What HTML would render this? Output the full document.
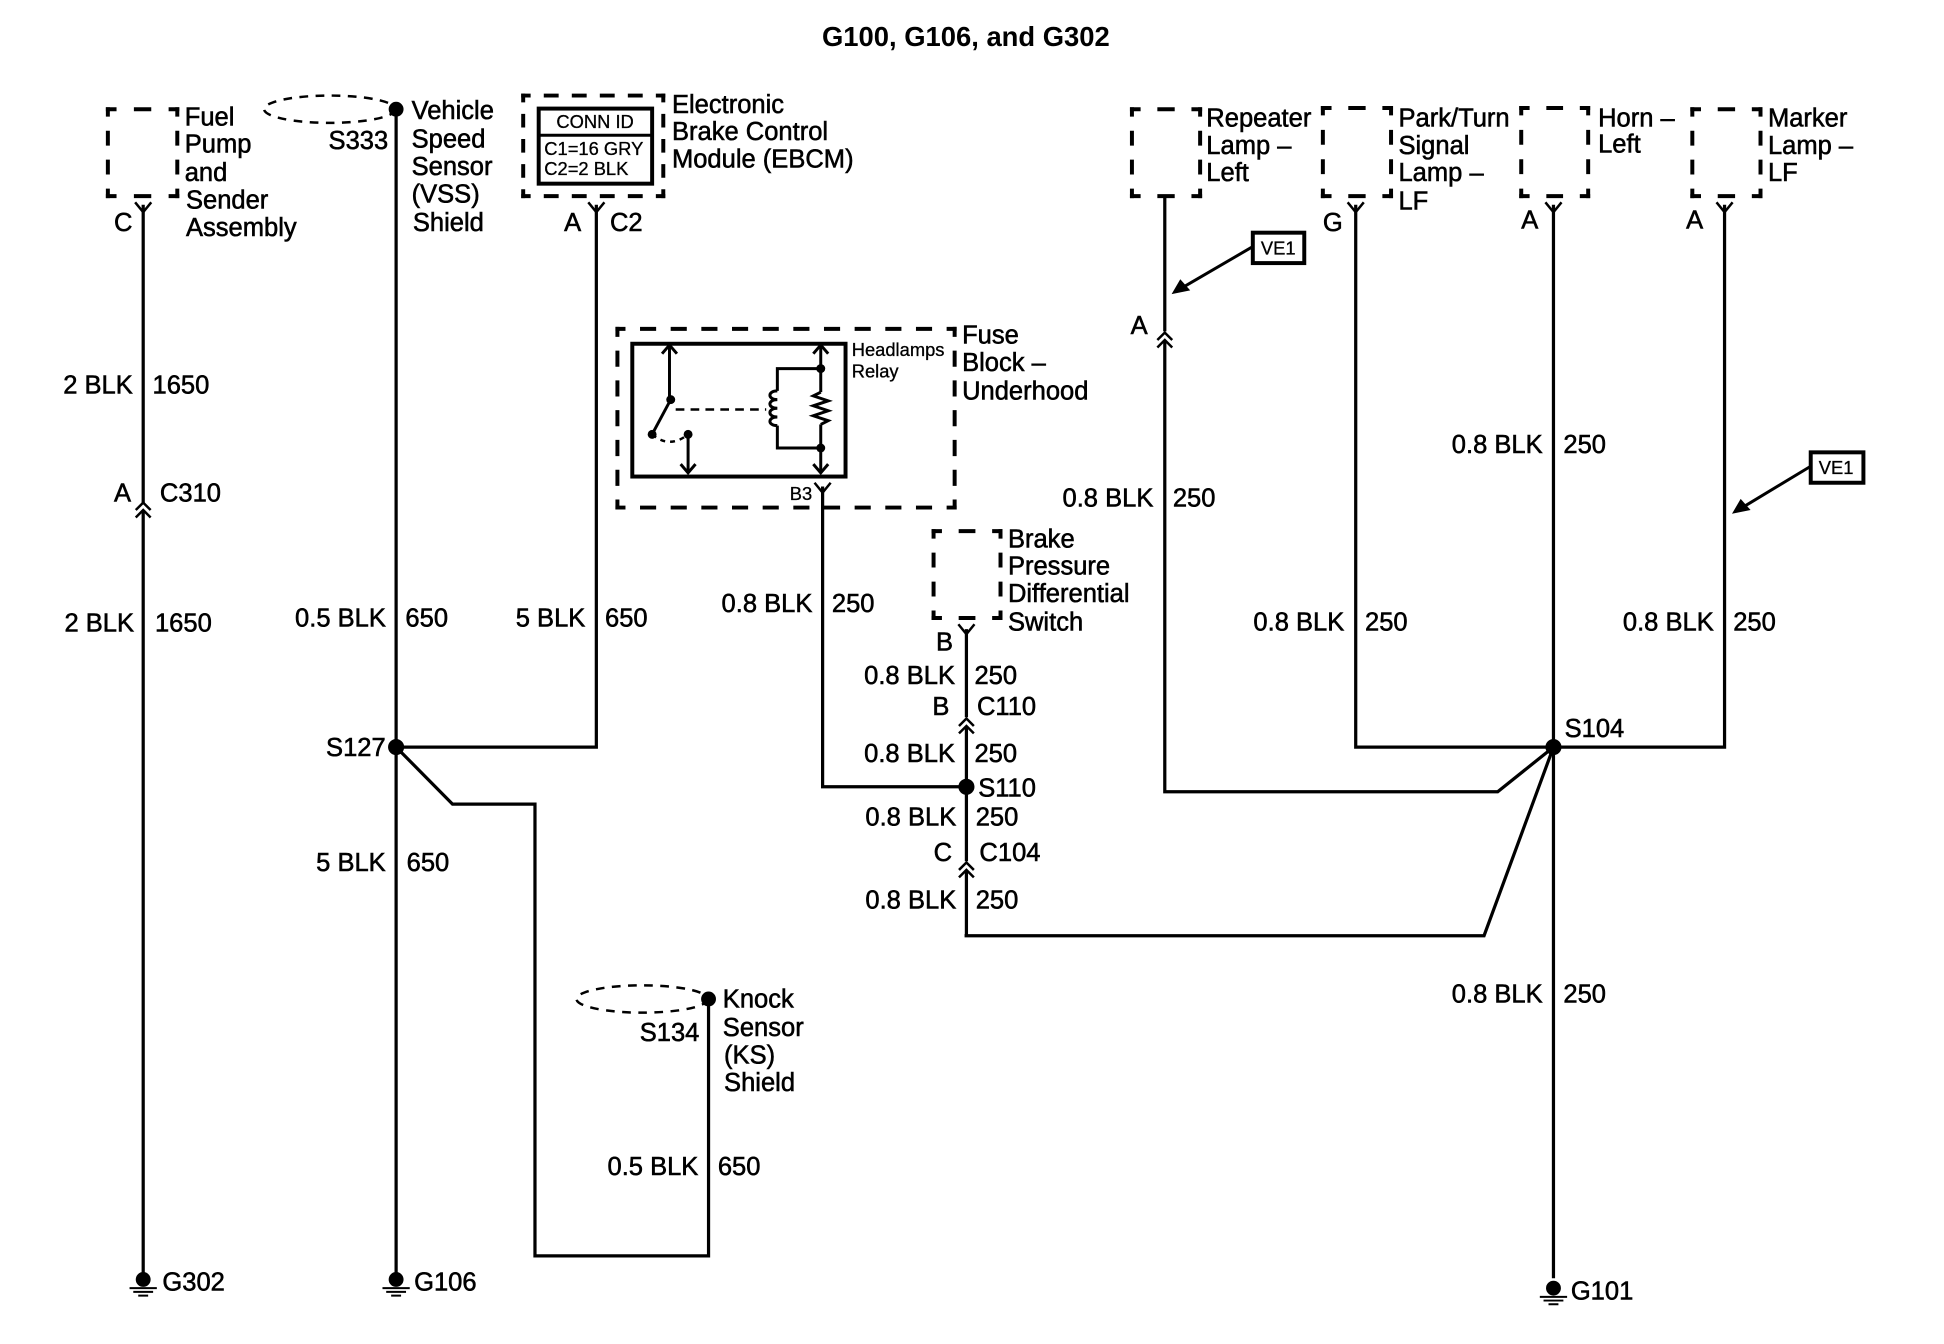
<!DOCTYPE html>
<html lang="en">
<head>
<meta charset="utf-8">
<title>G100, G106, and G302</title>
<style>
html,body{margin:0;padding:0;background:#fff}
svg{display:block}
text{font-family:"Liberation Sans",Arial,sans-serif;font-size:20.6px;fill:#000;stroke:#000;stroke-width:.45}
.t{font-weight:bold;font-size:22.1px;stroke:none}
.s{font-size:14.8px;stroke-width:.25}
.w{fill:none;stroke:#000;stroke-width:2.6;stroke-linejoin:miter}
.b{fill:none;stroke:#000;stroke-width:3.2}
.i{fill:none;stroke:#000;stroke-width:2.4}
.c{fill:none;stroke:#000;stroke-width:2}
.g{fill:none;stroke:#000;stroke-width:1.6}
</style>
</head>
<body>
<svg xmlns="http://www.w3.org/2000/svg" width="1944" height="1344" viewBox="0 0 1568 1083" preserveAspectRatio="none">
<rect width="1568" height="1083" fill="#fff"/>

<!-- dashed component boxes -->
<g class="b" stroke-linecap="square">
<!-- Fuel -->
<path d="M87 88H143M87 158H143" stroke-dasharray="10.8 17.2" stroke-dashoffset="5.4"/>
<path d="M87 88V158M143 88V158" stroke-dasharray="8.8 14.53" stroke-dashoffset="4.4"/>
<!-- EBCM -->
<path d="M422 77H535M422 158H535" stroke-dasharray="8.8 13.8" stroke-dashoffset="4.4"/>
<path d="M422 77V158M535 77V158" stroke-dasharray="7.8 12.45" stroke-dashoffset="3.9"/>
<!-- Fuse block -->
<path d="M498 265H770M498 409H770" stroke-dasharray="9.8 14.93" stroke-dashoffset="4.9"/>
<path d="M498 265V409M770 265V409" stroke-dasharray="9.8 14.2" stroke-dashoffset="4.9"/>
<!-- Brake switch -->
<path d="M753 428H807M753 498H807" stroke-dasharray="10.3 16.7" stroke-dashoffset="5.15"/>
<path d="M753 428V498M807 428V498" stroke-dasharray="8.8 14.53" stroke-dashoffset="4.4"/>
<!-- Repeater -->
<path d="M913 88H968M913 158H968" stroke-dasharray="10.8 16.7" stroke-dashoffset="5.4"/>
<path d="M913 88V158M968 88V158" stroke-dasharray="8.8 14.53" stroke-dashoffset="4.4"/>
<!-- Park -->
<path d="M1067 87H1122M1067 158H1122" stroke-dasharray="10.8 16.7" stroke-dashoffset="5.4"/>
<path d="M1067 87V158M1122 87V158" stroke-dasharray="8.8 14.87" stroke-dashoffset="4.4"/>
<!-- Horn -->
<path d="M1227 87H1281M1227 158H1281" stroke-dasharray="10.3 16.7" stroke-dashoffset="5.15"/>
<path d="M1227 87V158M1281 87V158" stroke-dasharray="8.8 14.87" stroke-dashoffset="4.4"/>
<!-- Marker -->
<path d="M1365 88H1420M1365 158H1420" stroke-dasharray="10.8 16.7" stroke-dashoffset="5.4"/>
<path d="M1365 88V158M1420 88V158" stroke-dasharray="8.8 14.53" stroke-dashoffset="4.4"/>
</g>

<!-- shield ellipses -->
<ellipse cx="266" cy="88" rx="53" ry="11" fill="none" stroke="#000" stroke-width="2" stroke-dasharray="7 6"/>
<ellipse cx="518" cy="805" rx="53" ry="11" fill="none" stroke="#000" stroke-width="2" stroke-dasharray="7 6"/>

<!-- EBCM inner -->
<rect x="434.5" y="87.5" width="91.5" height="60.5" class="b"/>
<path d="M434 109H526" class="i"/>

<!-- Relay -->
<rect x="510" y="277" width="172" height="107" class="b"/>
<g class="i">
<path d="M540 279V322"/>
<path d="M534 285L540 278L546 285"/>
<path d="M541 322L526 350"/>
<path d="M555 350V380"/>
<path d="M549 374L555 381L561 374"/>
<path d="M662 279V316"/>
<path d="M662 342V381"/>
<path d="M656 285L662 278L668 285"/>
<path d="M656 374L662 381L668 374"/>
<path d="M662 297H627V315"/>
<path d="M627 343V361H662"/>
</g>
<path d="M627 315c-8 0-8 7 0 7c-8 0-8 7 0 7c-8 0-8 7 0 7c-8 0-8 7 0 7" fill="none" stroke="#000" stroke-width="2.4"/>
<path d="M662 316L656 319L668 323L656 327L668 331L656 335L668 339L662 342" fill="none" stroke="#000" stroke-width="2.4"/>
<path d="M545 330H618" class="c" stroke-dasharray="7 5"/>
<path d="M526 350Q540 362 555 350" class="c" stroke-dasharray="4 4"/>
<circle cx="541" cy="322" r="3.6"/>
<circle cx="526" cy="350" r="3.6"/>
<circle cx="555" cy="350" r="3.6"/>
<circle cx="662" cy="297" r="3.6"/>
<circle cx="662" cy="361" r="3.6"/>

<!-- wires -->
<g class="w">
<path d="M115.5 165V405"/>
<path d="M115.5 411V1030"/>
<path d="M319.5 88V1030"/>
<path d="M319.5 602H481V165"/>
<path d="M319.5 602L365 648H431.5V1012H571.5V805"/>
<path d="M663.5 392V634H779.5"/>
<path d="M779.5 507V578"/>
<path d="M779.5 585V694"/>
<path d="M779.5 701V754"/>
<path d="M778 754H1197L1253 602"/>
<path d="M939.5 158V267"/>
<path d="M939.5 274V638H1208L1253 602"/>
<path d="M1093.5 165V602H1391V165"/>
<path d="M1253 165V1030"/>
</g>

<!-- connector Y marks -->
<g class="c">
<path d="M109 163L115.500 171L122 163"/>
<path d="M474.500 163L481 171L487.500 163"/>
<path d="M657 389L663.500 397L670 389"/>
<path d="M773 503L779.500 511L786 503"/>
<path d="M1087 163L1093.500 171L1100 163"/>
<path d="M1246.500 163L1253 171L1259.500 163"/>
<path d="M1384.500 163L1391 171L1397.500 163"/>
<!-- double chevrons -->
<path d="M109.500 411L115.500 405L121.500 411M109.500 417L115.500 411L121.500 417"/>
<path d="M933.500 274L939.500 268L945.500 274M933.500 280L939.500 274L945.500 280"/>
<path d="M773.500 585L779.500 579L785.500 585M773.500 591L779.500 585L785.500 591"/>
<path d="M773.500 701L779.500 695L785.500 701M773.500 707L779.500 701L785.500 707"/>
</g>

<!-- splice dots -->
<circle cx="319.500" cy="88" r="6"/>
<circle cx="319.500" cy="602" r="6.500"/>
<circle cx="779.500" cy="634" r="6.500"/>
<circle cx="1253" cy="602" r="6.500"/>
<circle cx="571.500" cy="805" r="6"/>

<!-- grounds -->
<circle cx="115.500" cy="1031" r="6"/>
<path d="M104.500 1038H126.500M107.500 1041H123.500M111.500 1044H119.500" class="g"/>
<circle cx="319.500" cy="1031" r="6"/>
<path d="M308.500 1038H330.500M311.500 1041H327.500M315.500 1044H323.500" class="g"/>
<circle cx="1253" cy="1038" r="6"/>
<path d="M1242 1045H1264M1245 1048H1261M1249 1051H1257" class="g"/>

<!-- VE1 -->
<rect x="1010.500" y="187.500" width="41.500" height="24.500" class="b"/>
<path d="M1010 199L955 231" class="i"/>
<path d="M945 237L952 225L960 234Z"/>
<rect x="1460.500" y="364.500" width="42.500" height="24.500" class="b"/>
<path d="M1460 376L1407 408" class="i"/>
<path d="M1397 414L1404 402L1412 411Z"/>

<!-- text -->
<text class="t" x="663" y="37">G100, G106, and G302</text>

<text x="149" y="101">Fuel</text>
<text x="149" y="123">Pump</text>
<text x="149" y="146">and</text>
<text x="150" y="168">Sender</text>
<text x="150" y="190">Assembly</text>
<text x="92" y="186">C</text>

<text x="265" y="120">S333</text>
<text x="332" y="96">Vehicle</text>
<text x="332" y="119">Speed</text>
<text x="332" y="141">Sensor</text>
<text x="332" y="163">(VSS)</text>
<text x="333" y="186">Shield</text>

<text x="542" y="91">Electronic</text>
<text x="542" y="113">Brake Control</text>
<text x="542" y="135">Module (EBCM)</text>
<text class="s" x="480" y="103" text-anchor="middle">CONN ID</text>
<text class="s" x="439" y="125">C1=16 GRY</text>
<text class="s" x="439" y="141">C2=2 BLK</text>
<text x="455" y="186">A</text>
<text x="492" y="186">C2</text>

<text class="s" x="687" y="287">Headlamps</text>
<text class="s" x="687" y="304">Relay</text>
<text class="s" x="637" y="403">B3</text>
<text x="776" y="277">Fuse</text>
<text x="776" y="299">Block –</text>
<text x="776" y="322">Underhood</text>

<text x="973" y="102">Repeater</text>
<text x="973" y="124">Lamp –</text>
<text x="973" y="146">Left</text>
<text x="1128" y="102">Park/Turn</text>
<text x="1128" y="124">Signal</text>
<text x="1128" y="146">Lamp –</text>
<text x="1128" y="169">LF</text>
<text x="1289" y="102">Horn –</text>
<text x="1289" y="123">Left</text>
<text x="1426" y="102">Marker</text>
<text x="1426" y="124">Lamp –</text>
<text x="1426" y="146">LF</text>
<text x="1067" y="186">G</text>
<text x="1227" y="184">A</text>
<text x="1360" y="184">A</text>
<text x="912" y="269">A</text>
<text class="s" x="1017" y="205">VE1</text>
<text class="s" x="1467" y="382">VE1</text>

<text x="51" y="317">2 BLK</text>
<text x="123" y="317">1650</text>
<text x="92" y="404">A</text>
<text x="129" y="404">C310</text>
<text x="52" y="509">2 BLK</text>
<text x="125" y="509">1650</text>

<text x="238" y="505">0.5 BLK</text>
<text x="327" y="505">650</text>
<text x="416" y="505">5 BLK</text>
<text x="488" y="505">650</text>
<text x="263" y="609">S127</text>
<text x="255" y="702">5 BLK</text>
<text x="328" y="702">650</text>

<text x="582" y="493">0.8 BLK</text>
<text x="671" y="493">250</text>
<text x="813" y="441">Brake</text>
<text x="813" y="463">Pressure</text>
<text x="813" y="485">Differential</text>
<text x="813" y="508">Switch</text>
<text x="755" y="524">B</text>
<text x="697" y="551">0.8 BLK</text>
<text x="786" y="551">250</text>
<text x="752" y="576">B</text>
<text x="788" y="576">C110</text>
<text x="697" y="614">0.8 BLK</text>
<text x="786" y="614">250</text>
<text x="789" y="642">S110</text>
<text x="698" y="665">0.8 BLK</text>
<text x="787" y="665">250</text>
<text x="753" y="694">C</text>
<text x="790" y="694">C104</text>
<text x="698" y="732">0.8 BLK</text>
<text x="787" y="732">250</text>

<text x="516" y="839">S134</text>
<text x="583" y="812">Knock</text>
<text x="583" y="835">Sensor</text>
<text x="584" y="857">(KS)</text>
<text x="584" y="879">Shield</text>
<text x="490" y="947">0.5 BLK</text>
<text x="579" y="947">650</text>

<text x="857" y="408">0.8 BLK</text>
<text x="946" y="408">250</text>
<text x="1171" y="365">0.8 BLK</text>
<text x="1261" y="365">250</text>
<text x="1011" y="508">0.8 BLK</text>
<text x="1101" y="508">250</text>
<text x="1309" y="508">0.8 BLK</text>
<text x="1398" y="508">250</text>
<text x="1262" y="594">S104</text>
<text x="1171" y="808">0.8 BLK</text>
<text x="1261" y="808">250</text>

<text x="131" y="1040">G302</text>
<text x="334" y="1040">G106</text>
<text x="1267" y="1047">G101</text>
</svg>
</body>
</html>
